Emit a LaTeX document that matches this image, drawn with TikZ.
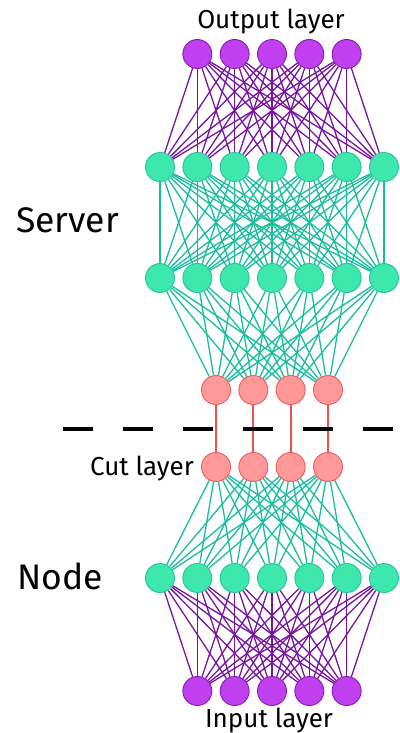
\documentclass[tikz,border=0pt]{standalone}
\usepackage{fontspec}
\setmainfont{Fira Sans}
\usetikzlibrary{backgrounds}

\definecolor{purpfill}{RGB}{192,64,240}
\definecolor{purpline}{RGB}{135,30,170}
\definecolor{purpedge}{RGB}{120,20,160}
\definecolor{greenfill}{RGB}{62,232,173}
\definecolor{greenline}{RGB}{40,195,155}
\definecolor{greenedge}{RGB}{24,190,158}
\definecolor{redfill}{RGB}{255,152,152}
\definecolor{redline}{RGB}{240,90,90}
\definecolor{rededge}{RGB}{240,80,80}

\begin{document}
\begin{tikzpicture}[x=1pt, y=-1pt,
  neuron/.style={circle, minimum size=29pt, inner sep=0pt, line width=0.9pt},
  ioneuron/.style={neuron, fill=purpfill, draw=purpline},
  hidneuron/.style={neuron, fill=greenfill, draw=greenline},
  cutneuron/.style={neuron, fill=redfill, draw=redline},
  iolink/.style={draw=purpedge, line width=1.3pt},
  hidlink/.style={draw=greenedge, line width=1.3pt},
  cutlink/.style={draw=rededge, line width=1.9pt},
  small/.style={font=\fontsize{26}{31}\selectfont, inner sep=0pt},
  big/.style={font=\fontsize{35.5}{42}\selectfont, inner sep=0pt}]
\useasboundingbox (0,0) rectangle (399,733);

% layers, top to bottom
\foreach \i in {1,...,5}
  \node[ioneuron] (o\i) at ({272+(\i-3)*37.33},54) {};
\foreach \i in {1,...,7}
  \node[hidneuron] (a\i) at ({272+(\i-4)*37.33},167) {};
\foreach \i in {1,...,7}
  \node[hidneuron] (b\i) at ({272+(\i-4)*37.33},278) {};
\foreach \i in {1,...,4}
  \node[cutneuron] (c\i) at ({272+(\i-2.5)*37.33},390) {};
\foreach \i in {1,...,4}
  \node[cutneuron] (d\i) at ({272+(\i-2.5)*37.33},467) {};
\foreach \i in {1,...,7}
  \node[hidneuron] (n\i) at ({272+(\i-4)*37.33},578) {};
\foreach \i in {1,...,5}
  \node[ioneuron] (p\i) at ({272+(\i-3)*37.33},691) {};

% connections behind the neurons
\begin{pgfonlayer}{background}
  \foreach \i in {1,...,5} \foreach \j in {1,...,7}
    \draw[iolink] (o\i) -- (a\j);
  \foreach \i in {1,...,7} \foreach \j in {1,...,7}
    \draw[hidlink] (a\i) -- (b\j);
  \foreach \i in {1,...,7} \foreach \j in {1,...,4}
    \draw[hidlink] (b\i) -- (c\j);
  \foreach \i in {1,...,4}
    \draw[cutlink] (c\i) -- (d\i);
  \foreach \i in {1,...,4} \foreach \j in {1,...,7}
    \draw[hidlink] (d\i) -- (n\j);
  \foreach \i in {1,...,7} \foreach \j in {1,...,5}
    \draw[iolink] (n\i) -- (p\j);
\end{pgfonlayer}

% split between server and node
\coordinate (cutL) at (63,429);
\coordinate (cutR) at (393,429);
\draw[line width=3.5pt, dash pattern=on 30pt off 30pt] (cutL) -- (cutR);

% labels
\node[small, anchor=base] (outlbl) at (271,29) {Output layer};
\node[small, anchor=base] (inlbl) at (269,727) {Input layer};
\node[small, anchor=base east] (cutlbl) at (194,475) {Cut layer};
\node[big, anchor=base west] (srvlbl) at (16,232) {Server};
\node[big, anchor=base west] (nodelbl) at (17,589) {Node};
\end{tikzpicture}
\end{document}
